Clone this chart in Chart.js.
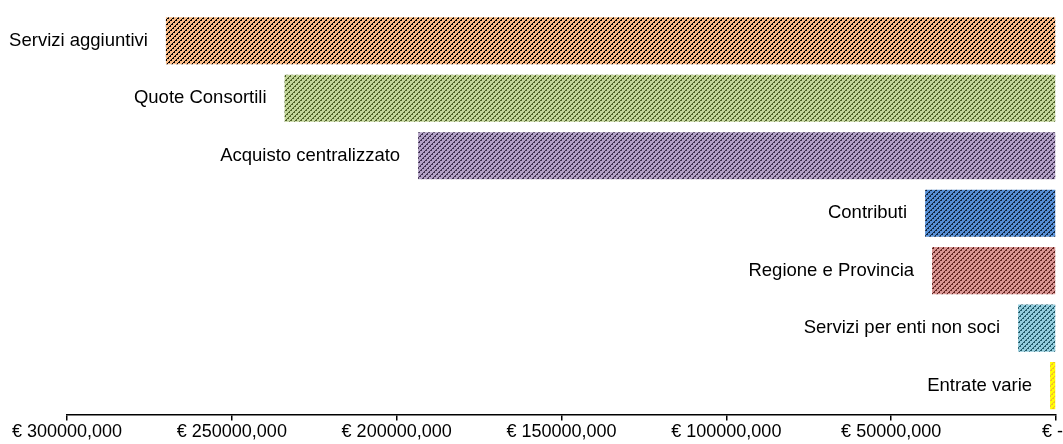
<!DOCTYPE html>
<html>
<head>
<meta charset="utf-8">
<script src="https://cdn.jsdelivr.net/npm/chart.js@4/dist/chart.umd.min.js"></script>
<style>
  html, body { margin: 0; padding: 0; background: #fff; }
  #wrap { width: 1063px; height: 444px; }
</style>
</head>
<body>
<div id="wrap"><canvas id="grafico"></canvas></div>
<script>
// DATI
const categorie = [
  "Servizi aggiuntivi",
  "Quote Consortili",
  "Acquisto centralizzato",
  "Contributi",
  "Regione e Provincia",
  "Servizi per enti non soci",
  "Entrate varie"
];
const valori = [270000000, 234000000, 193500000, 39700000, 37600000, 11500000, 1800000];
const tickValori = [0, 50000000, 100000000, 150000000, 200000000, 250000000, 300000000];

// COLORI (sfondo + tratteggio)
const sfondi = ["#F9BA86", "#C3D69B", "#B3A2C7", "#558ED5", "#D99694", "#93CDDD", "#FFFF00"];
const tratti = ["#000000", "#4F6228", "#3F3151", "#10253F", "#632523", "#215968", "#F5B82E"];

const FONT = "'Liberation Sans', Arial, sans-serif";

// pattern tratteggio diagonale
function tratteggio(bg, fg) {
  const c = document.createElement("canvas");
  c.width = 10;
  c.height = 10;
  const g = c.getContext("2d");
  g.fillStyle = bg;
  g.fillRect(0, 0, 10, 10);
  g.fillStyle = fg;
  for (let y = 0; y < 10; y++) {
    for (let x = 0; x < 10; x++) {
      const d = (x + y) % 5;
      if (d === 0 || (d === 1 && y % 2 === 0)) g.fillRect(x, y, 1, 1);
    }
  }
  return g.createPattern(c, "repeat");
}

const formato = v => v === 0 ? "€ -" : "€ " + (v / 1000) + ",000";

// etichette a sinistra delle barre + etichetta dello zero allineata a destra
const etichette = {
  id: "etichette",
  afterDatasetsDraw(chart) {
    const ctx = chart.ctx;
    const meta = chart.getDatasetMeta(0);
    ctx.save();
    ctx.font = "18.5px " + FONT;
    ctx.fillStyle = "#000";
    ctx.textAlign = "right";
    ctx.textBaseline = "middle";
    meta.data.forEach((bar, i) => {
      const sx = Math.min(bar.x, bar.base);
      ctx.fillText(categorie[i], sx - 18, bar.y);
    });
    ctx.restore();
  },
  afterDraw(chart) {
    const ctx = chart.ctx;
    const sc = chart.scales.x;
    ctx.save();
    ctx.font = "18px " + FONT;
    ctx.fillStyle = "#000";
    ctx.textAlign = "right";
    ctx.textBaseline = "middle";
    ctx.fillText(formato(0), chart.width, sc.top + 6 + 1 + 10.8);
    ctx.restore();
  }
};

new Chart(document.getElementById("grafico"), {
  type: "bar",
  data: {
    labels: categorie,
    datasets: [{
      data: valori,
      backgroundColor: sfondi.map((s, i) => tratteggio(s, tratti[i])),
      borderWidth: 0,
      categoryPercentage: 1,
      barPercentage: 0.82
    }]
  },
  options: {
    indexAxis: "y",
    responsive: true,
    maintainAspectRatio: false,
    animation: false,
    layout: { padding: { top: 12, left: 67, right: 7, bottom: 0 } },
    plugins: {
      legend: { display: false },
      tooltip: { enabled: false }
    },
    scales: {
      x: {
        reverse: true,
        min: 0,
        max: 300000000,
        afterBuildTicks: s => { s.ticks = tickValori.map(v => ({ value: v })); },
        border: { display: true, color: "#000", width: 1.5 },
        grid: { drawOnChartArea: false, drawTicks: true, tickLength: 6, color: "#000", lineWidth: 1.5 },
        ticks: {
          color: "#000",
          maxRotation: 0,
          padding: 1,
          font: { family: FONT, size: 18 },
          callback: v => v === 0 ? "" : formato(v)
        }
      },
      y: { display: false }
    }
  },
  plugins: [etichette]
});
</script>
</body>
</html>
